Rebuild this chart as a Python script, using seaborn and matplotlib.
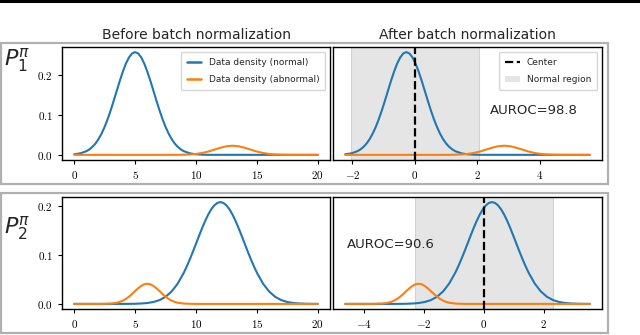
import pandas as pd
import matplotlib.pyplot as plt
import seaborn as sns
from matplotlib.patches import Rectangle, Patch
from matplotlib.lines import Line2D
from matplotlib.ticker import FuncFormatter

P1_NORMAL_X = [0.0, 0.5, 1.0, 1.25, 1.5, 1.75, 2.0, 2.25, 2.5, 2.75, 3.0, 3.25, 3.5,
               3.75, 4.0, 4.25, 4.5, 4.75, 5.0, 5.25, 5.5, 5.75, 6.0, 6.25, 6.5, 6.75,
               7.0, 7.25, 7.5, 7.75, 8.0, 8.25, 8.5, 8.75, 9.0, 9.5, 10.0, 10.5, 11.0,
               20.0]
P1_NORMAL_Y = [0.0014, 0.0038, 0.0092, 0.0138, 0.0202, 0.0286, 0.0397, 0.0535, 0.0703,
               0.0900, 0.1122, 0.1364, 0.1615, 0.1864, 0.2095, 0.2295, 0.2449, 0.2547,
               0.2580, 0.2547, 0.2449, 0.2295, 0.2095, 0.1864, 0.1615, 0.1364, 0.1122,
               0.0900, 0.0703, 0.0535, 0.0397, 0.0286, 0.0202, 0.0138, 0.0092, 0.0038,
               0.0014, 0.0005, 0.0001, 0.0]

P1_ABNORMAL_X = [0.0, 8.0, 8.5, 9.0, 9.5, 10.0, 10.5, 11.0, 11.5, 12.0, 12.5, 13.0,
                 13.5, 14.0, 14.5, 15.0, 15.5, 16.0, 16.5, 17.0, 17.5, 18.0, 20.0]
P1_ABNORMAL_Y = [0.0, 0.0, 0.0001, 0.0004, 0.0010, 0.0023, 0.0047, 0.0083, 0.0130,
                 0.0178, 0.0216, 0.0230, 0.0216, 0.0178, 0.0130, 0.0083, 0.0047, 0.0023,
                 0.0010, 0.0004, 0.0001, 0.0, 0.0]

P2_NORMAL_X = [0.0, 4.0, 4.5, 5.0, 5.5, 6.0, 6.5, 7.0, 7.5, 8.0, 8.5, 9.0, 9.25, 9.5,
               9.75, 10.0, 10.25, 10.5, 10.75, 11.0, 11.25, 11.5, 11.75, 12.0, 12.25,
               12.5, 12.75, 13.0, 13.25, 13.5, 13.75, 14.0, 14.25, 14.5, 14.75, 15.0,
               15.5, 16.0, 16.5, 17.0, 17.5, 18.0, 18.5, 19.0, 19.5, 20.0]
P2_NORMAL_Y = [0.0, 0.0, 0.0001, 0.0003, 0.0008, 0.0018, 0.0039, 0.0077, 0.0144, 0.0253,
               0.0413, 0.0634, 0.0766, 0.0910, 0.1064, 0.1223, 0.1384, 0.1540, 0.1686,
               0.1815, 0.1922, 0.2003, 0.2053, 0.2070, 0.2053, 0.2003, 0.1922, 0.1815,
               0.1686, 0.1540, 0.1384, 0.1223, 0.1064, 0.0910, 0.0766, 0.0634, 0.0413,
               0.0253, 0.0144, 0.0077, 0.0039, 0.0018, 0.0008, 0.0003, 0.0001, 0.0]

P2_ABNORMAL_X = [0.0, 2.0, 2.5, 3.0, 3.5, 3.75, 4.0, 4.25, 4.5, 4.75, 5.0, 5.25, 5.5,
                 5.75, 6.0, 6.25, 6.5, 6.75, 7.0, 7.25, 7.5, 7.75, 8.0, 8.25, 8.5, 9.0,
                 9.5, 10.0, 20.0]
P2_ABNORMAL_Y = [0.0, 0.0, 0.0002, 0.0007, 0.0024, 0.0041, 0.0067, 0.0102, 0.0148,
                 0.0202, 0.0261, 0.0318, 0.0366, 0.0399, 0.0410, 0.0399, 0.0366, 0.0318,
                 0.0261, 0.0202, 0.0148, 0.0102, 0.0067, 0.0041, 0.0024, 0.0007, 0.0002,
                 0.0, 0.0]

# batch-norm statistics (mean, std) and half-width of the normal region
BN_STATS = {"P1": (5.69, 2.55), "P2": (11.35, 2.45)}
NORMAL_REGION = {"P1": 2.05, "P2": 2.3}
AUROC = {"P1": "98.8", "P2": "90.6"}

ROW_LABELS = {"P1": r"$P_1^{\pi}$", "P2": r"$P_2^{\pi}$"}
LEFT_XTICKS = [0, 5, 10, 15, 20]
RIGHT_XTICKS = {"P1": [-2, 0, 2, 4], "P2": [-4, -2, 0, 2]}
YTICKS = [0.0, 0.1, 0.2]

BLUE = "#1f77b4"
ORANGE = "#ff7f0e"
SPAN = "#e5e5e5"
W, H = 640, 335

sns.set_style("ticks")
plt.rcParams.update({
    "font.family": ["DejaVu Sans"],
    "mathtext.fontset": "cm",
    "axes.edgecolor": "black",
    "axes.linewidth": 1.0,
    "xtick.color": "black",
    "ytick.color": "black",
    "xtick.major.size": 3,
    "ytick.major.size": 3,
    "xtick.labelsize": 8,
    "ytick.labelsize": 8,
})

fig = plt.figure(figsize=(6.4, 3.35), dpi=100)


def px_axes(left, right, top, bottom, **kw):
    return fig.add_axes([left / W, 1 - bottom / H, (right - left) / W, (bottom - top) / H], **kw)


def curve(xs, ys, mu=None, sd=None):
    df = pd.DataFrame({"x": xs, "density": ys})
    if mu is not None:
        df["x"] = (df["x"] - mu) / sd
    return df


math_fmt = FuncFormatter(lambda v, pos: f"${v:g}$")
y_fmt = FuncFormatter(lambda v, pos: f"${v:.1f}$")

rows = [("P1", (P1_NORMAL_X, P1_NORMAL_Y), (P1_ABNORMAL_X, P1_ABNORMAL_Y), 47, 160),
        ("P2", (P2_NORMAL_X, P2_NORMAL_Y), (P2_ABNORMAL_X, P2_ABNORMAL_Y), 197, 309)]

for r, (key, normal, abnormal, top, bottom) in enumerate(rows):
    mu, sd = BN_STATS[key]

    ax_l = px_axes(62, 330, top, bottom)
    ax_r = px_axes(333, 602, top, bottom, sharey=ax_l)

    # before batch normalization
    sns.lineplot(data=curve(*normal), x="x", y="density", color=BLUE, lw=1.5, ax=ax_l)
    sns.lineplot(data=curve(*abnormal), x="x", y="density", color=ORANGE, lw=1.5, ax=ax_l)

    # after batch normalization
    half = NORMAL_REGION[key]
    ax_r.axvspan(-half, half, facecolor=SPAN, edgecolor="#d2d2d2", lw=0.8, zorder=0)
    sns.lineplot(data=curve(*normal, mu, sd), x="x", y="density", color=BLUE, lw=1.5, ax=ax_r)
    sns.lineplot(data=curve(*abnormal, mu, sd), x="x", y="density", color=ORANGE, lw=1.5, ax=ax_r)
    ax_r.axvline(0, color="black", ls="--", lw=1.6)

    for ax in (ax_l, ax_r):
        ax.set_xlabel("")
        ax.set_ylabel("")
        ax.xaxis.set_major_formatter(math_fmt)
    ax_l.set_xticks(LEFT_XTICKS)
    ax_r.set_xticks(RIGHT_XTICKS[key])
    ax_l.set_yticks(YTICKS)
    ax_l.yaxis.set_major_formatter(y_fmt)
    ax_r.tick_params(axis="y", left=False, labelleft=False)

    ax_r.text(0.584 if r == 0 else 0.052, 0.434 if r == 0 else 0.58,
              f"AUROC={AUROC[key]}", transform=ax_r.transAxes,
              ha="left", va="center", fontsize=9.5)

    if r == 0:
        ax_l.set_title("Before batch normalization", fontsize=10, pad=6)
        ax_r.set_title("After batch normalization", fontsize=10, pad=6)
        leg_kw = dict(loc="upper right", fontsize=6.5, handlelength=1.6,
                      labelspacing=0.9, borderpad=0.7)
        ax_l.legend(handles=[Line2D([], [], color=BLUE, lw=1.8),
                             Line2D([], [], color=ORANGE, lw=1.8)],
                    labels=["Data density (normal)", "Data density (abnormal)"], **leg_kw)
        ax_r.legend(handles=[Line2D([], [], color="black", ls="--", lw=1.6),
                             Patch(facecolor=SPAN, edgecolor="none")],
                    labels=["Center", "Normal region"], **leg_kw)

    # gray frame around the row and row label
    fig.add_artist(Rectangle((1 / W, 1 - (bottom + 24) / H),
                             607 / W, (bottom + 24 - (top - 4)) / H,
                             transform=fig.transFigure, fill=False,
                             edgecolor="#b0b0b0", lw=1.6))
    fig.text(4 / W, 1 - (top - 1 if r == 0 else top + 17) / H, ROW_LABELS[key],
             ha="left", va="top", fontsize=16, math_fontfamily="dejavusans")

# black rule along the top edge
fig.add_artist(Line2D([0, 1], [1 - 1.2 / H, 1 - 1.2 / H], transform=fig.transFigure,
                      color="black", lw=2.2))

fig.savefig("out.png", dpi=100)
